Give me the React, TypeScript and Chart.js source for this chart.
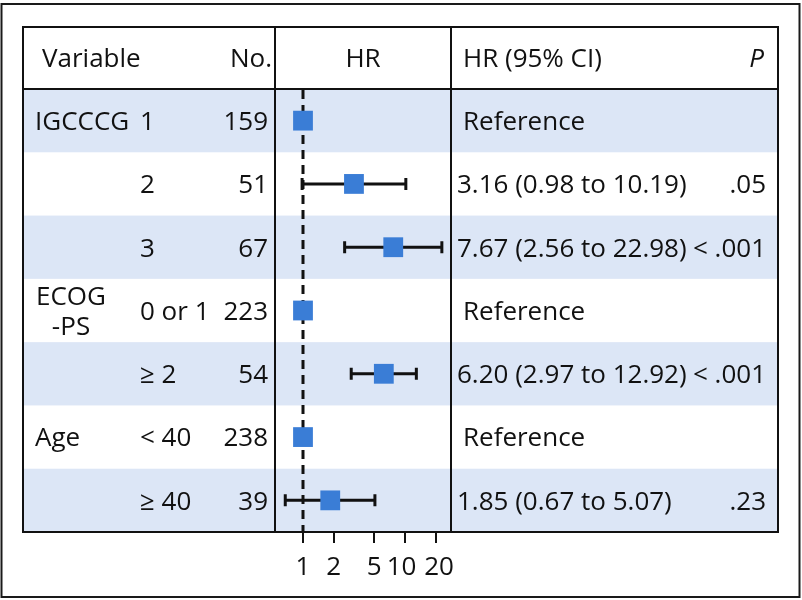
import React, { useEffect, useRef } from "react";
import { Chart, registerables } from "chart.js";

Chart.register(...registerables);

// ---- data ----
const variables = ["IGCCCG", "", "", "ECOG\n-PS", "", "Age", ""];
const subgroups = ["1", "2", "3", "0 or 1", "≥ 2", "< 40", "≥ 40"];
const counts = ["159", "51", "67", "223", "54", "238", "39"];
const hrValues = [1, 3.16, 7.67, 1, 6.2, 1, 1.85];
const ciLow: (number | null)[] = [null, 0.98, 2.56, null, 2.97, null, 0.67];
const ciHigh: (number | null)[] = [null, 10.19, 22.98, null, 12.92, null, 5.07];
const hrLabels = [
  "Reference",
  "3.16 (0.98 to 10.19)",
  "7.67 (2.56 to 22.98)",
  "Reference",
  "6.20 (2.97 to 12.92)",
  "Reference",
  "1.85 (0.67 to 5.07)",
];
const pLabels = ["", ".05", "< .001", "", "< .001", "", ".23"];
const tickValues = [1, 2, 5, 10, 20];
const tickLabels = ["1", "2", "5", "10 ", " 20"];
const headerLabels = ["Variable", "No.", "HR", "HR (95% CI)", "P"];

// ---- styles ----
const FONT = "'Open Sans', 'Noto Sans', Arial, sans-serif";
const FS = 26;
const FW = 500;
const TEXT = "#111111";
const BAND = "#dce6f6";
const SQUARE = "#3a7dd6";

const tablePlugin = {
  id: "forestTable",
  beforeDraw(chart: any) {
    const ctx = chart.ctx;
    const y = chart.scales.y;
    ctx.save();
    ctx.fillStyle = "#ffffff";
    ctx.fillRect(0, 0, chart.width, chart.height);
    const L = 23, R = 778;
    for (let i = 0; i < hrValues.length; i++) {
      if (i % 2 === 0) {
        const t = y.getPixelForValue(i + 0.5);
        const b = y.getPixelForValue(i + 1.5);
        ctx.fillStyle = BAND;
        ctx.fillRect(L, t, R - L, b - t);
      }
    }
    ctx.restore();
  },
  beforeDatasetsDraw(chart: any) {
    const ctx = chart.ctx;
    const x = chart.scales.x;
    const y = chart.scales.y;
    const area = chart.chartArea;
    ctx.save();
    const x1 = x.getPixelForValue(1);
    ctx.strokeStyle = TEXT;
    ctx.lineWidth = 3;
    ctx.setLineDash([9, 6]);
    ctx.beginPath();
    ctx.moveTo(x1, area.top + 1);
    ctx.lineTo(x1, area.bottom);
    ctx.stroke();
    ctx.setLineDash([]);
    ctx.lineWidth = 3;
    for (let i = 0; i < hrValues.length; i++) {
      const lo = ciLow[i], hi = ciHigh[i];
      if (lo == null || hi == null) continue;
      const yy = y.getPixelForValue(i + 1);
      const a = x.getPixelForValue(lo);
      const b = x.getPixelForValue(hi);
      ctx.beginPath();
      ctx.moveTo(a, yy);
      ctx.lineTo(b, yy);
      ctx.moveTo(a, yy - 6);
      ctx.lineTo(a, yy + 6);
      ctx.moveTo(b, yy - 6);
      ctx.lineTo(b, yy + 6);
      ctx.stroke();
    }
    ctx.restore();
  },
  afterDraw(chart: any) {
    const ctx = chart.ctx;
    const y = chart.scales.y;
    const area = chart.chartArea;
    const L = 23, R = 778, T = 27;
    const dy = 2;
    ctx.save();
    ctx.strokeStyle = "#1a1a1a";
    ctx.lineWidth = 2;
    ctx.strokeRect(1.5, 4, 798, 593);
    ctx.strokeStyle = TEXT;
    ctx.lineWidth = 2;
    ctx.strokeRect(L, T, R - L, area.bottom - T);
    ctx.beginPath();
    ctx.moveTo(L, area.top);
    ctx.lineTo(R, area.top);
    ctx.moveTo(area.left, T);
    ctx.lineTo(area.left, area.bottom);
    ctx.moveTo(area.right, T);
    ctx.lineTo(area.right, area.bottom);
    ctx.stroke();

    const hy = (T + area.top) / 2 + dy;
    ctx.fillStyle = TEXT;
    ctx.textBaseline = "middle";
    ctx.font = `${FW} ${FS}px ${FONT}`;
    ctx.textAlign = "left";
    ctx.fillText(headerLabels[0], 42, hy);
    ctx.textAlign = "right";
    ctx.fillText(headerLabels[1], 272, hy);
    ctx.textAlign = "center";
    ctx.fillText(headerLabels[2], (area.left + area.right) / 2, hy);
    ctx.textAlign = "left";
    ctx.fillText(headerLabels[3], 463, hy);
    ctx.textAlign = "right";
    ctx.font = `italic ${FW} ${FS}px ${FONT}`;
    ctx.fillText(headerLabels[4], 764, hy);
    ctx.font = `${FW} ${FS}px ${FONT}`;

    for (let i = 0; i < hrValues.length; i++) {
      const yy = y.getPixelForValue(i + 1) + dy;
      const v = variables[i];
      if (v) {
        if (v.includes("\n")) {
          const parts = v.split("\n");
          ctx.textAlign = "center";
          ctx.fillText(parts[0], 71, yy - 15);
          ctx.fillText(parts[1], 71, yy + 15);
        } else {
          ctx.textAlign = "left";
          ctx.fillText(v, 35, yy);
        }
      }
      ctx.textAlign = "left";
      ctx.fillText(subgroups[i], 140, yy);
      ctx.textAlign = "right";
      ctx.fillText(counts[i], 268, yy);
      ctx.textAlign = "left";
      const isRef = hrLabels[i] === "Reference";
      ctx.fillText(hrLabels[i], isRef ? 463 : 457, yy);
      if (pLabels[i]) {
        ctx.textAlign = "right";
        ctx.fillText(pLabels[i], 766, yy);
      }
    }
    ctx.restore();
  },
};

export default function App() {
  const ref = useRef<HTMLCanvasElement | null>(null);
  useEffect(() => {
    document.body.style.margin = "0";
    const canvas = ref.current!;
    const pxPerDecade = 102;
    const xMin = Math.pow(10, (275 - 303) / pxPerDecade);
    const xMax = Math.pow(10, (451 - 303) / pxPerDecade);
    const chart = new Chart(canvas, {
      type: "scatter",
      data: {
        datasets: [
          {
            data: hrValues.map((v, i) => ({ x: v, y: i + 1 })),
            pointStyle: "rect",
            pointRadius: 14,
            pointHoverRadius: 14,
            backgroundColor: SQUARE,
            borderWidth: 0,
          },
        ],
      },
      options: {
        animation: false,
        responsive: false,
        events: [],
        layout: { padding: { left: 275, right: 802 - 451, top: 89, bottom: 0 } },
        plugins: { legend: { display: false }, tooltip: { enabled: false } },
        scales: {
          x: {
            type: "logarithmic",
            min: xMin,
            max: xMax,
            afterBuildTicks: (s: any) => {
              s.ticks = tickValues.map((v) => ({ value: v }));
            },
            afterFit: (s: any) => {
              s.height = 68;
            },
            border: { display: false },
            grid: {
              drawOnChartArea: false,
              drawTicks: true,
              tickLength: 11,
              color: TEXT,
              lineWidth: 2,
            },
            ticks: {
              autoSkip: false,
              maxRotation: 0,
              padding: 9,
              color: TEXT,
              font: { family: FONT, size: FS, weight: FW as any },
              callback: (v: any) => {
                const idx = tickValues.indexOf(Number(v));
                return idx >= 0 ? tickLabels[idx] : "";
              },
            },
          },
          y: {
            type: "linear",
            min: 0.5,
            max: 7.5,
            reverse: true,
            display: false,
          },
        },
      },
      plugins: [tablePlugin],
    });
    return () => chart.destroy();
  }, []);
  return <canvas ref={ref} width={802} height={600} style={{ display: "block" }} />;
}
